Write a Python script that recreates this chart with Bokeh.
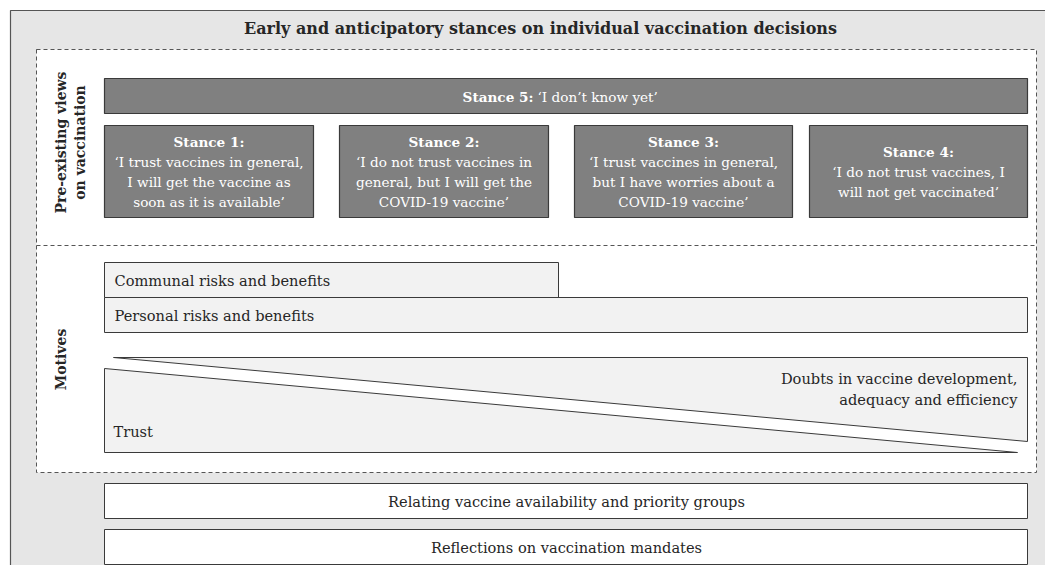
import math
from bokeh.plotting import figure
from bokeh.models import Range1d
from bokeh.core.properties import value
from bokeh.embed import file_html
from bokeh.resources import INLINE

# ---- content ----
title_text = "Early and anticipatory stances on individual vaccination decisions"
section_labels = ["Pre-existing views", "on vaccination", "Motives"]
stance5_head = "Stance 5:"
stance5_body = "\u2018I don\u2019t know yet\u2019"
stance_heads = ["Stance 1:", "Stance 2:", "Stance 3:", "Stance 4:"]
stance_lines = [
    ["\u2018I trust vaccines in general,", "I will get the vaccine as", "soon as it is available\u2019"],
    ["\u2018I do not trust vaccines in", "general, but I will get the", "COVID-19 vaccine\u2019"],
    ["\u2018I trust vaccines in general,", "but I have worries about a", "COVID-19 vaccine\u2019"],
    ["\u2018I do not trust vaccines, I", "will not get vaccinated\u2019"],
]
motive_bars = ["Communal risks and benefits", "Personal risks and benefits"]
doubts_lines = ["Doubts in vaccine development,", "adequacy and efficiency"]
trust_label = "Trust"
bottom_bars = ["Relating vaccine availability and priority groups", "Reflections on vaccination mandates"]

# ---- layout (pixel-like coordinates) ----
stance_left = [104, 339, 574, 809]
stance_right = [313, 548, 792, 1027]
motive_right = [558, 1027]
motive_top = [262, 297]
bottom_top = [483, 529]

SERIF = "DejaVu Serif"
FS = "14.6px"
SFS = "13.6px"
DARK = "#262626"
EDGE = "#3a3a3a"

p = figure(width=1045, height=565, output_backend="svg", toolbar_location=None,
           x_range=Range1d(0, 1045), y_range=Range1d(565, 0), min_border=0)
p.axis.visible = False
p.grid.visible = False
p.outline_line_color = None
p.background_fill_color = "white"
p.border_fill_color = "white"

# outer frame
p.quad(left=[10], right=[1080], top=[10], bottom=[600], fill_color="#e6e6e6",
       line_color="#555555", line_width=1.2)
# dashed inner frame
p.quad(left=[36], right=[1036], top=[49], bottom=[472], fill_color="white",
       line_color="#555555", line_width=1, line_dash="4 3")
p.line(x=[36, 1036], y=[245, 245], line_color="#555555", line_width=1, line_dash="4 3")

# title
p.text(x=[540], y=[28], text=[title_text], text_font=value(SERIF),
       text_font_size="16px", text_font_style="bold", text_color=DARK,
       text_align="center", text_baseline="middle")

# vertical section labels
p.text(x=[60, 79], y=[142, 142], text=section_labels[:2], text_font=value(SERIF),
       text_font_size="14px", text_font_style="bold", text_color=DARK, angle=math.pi / 2,
       text_align="center", text_baseline="middle")
p.text(x=[60], y=[359], text=section_labels[2:], text_font=value(SERIF),
       text_font_size="14px", text_font_style="bold", text_color=DARK, angle=math.pi / 2,
       text_align="center", text_baseline="middle")

# stance 5 bar
p.quad(left=[104], right=[1027], top=[78], bottom=[113], fill_color="#808080",
       line_color=EDGE, line_width=1.2)
p.text(x=[533], y=[96], text=[stance5_head], text_font=value(SERIF), text_font_size=SFS,
       text_font_style="bold", text_color="white", text_align="right", text_baseline="middle")
p.text(x=[537], y=[96], text=[stance5_body], text_font=value(SERIF), text_font_size=SFS,
       text_color="white", text_align="left", text_baseline="middle")

# stance boxes
p.quad(left=stance_left, right=stance_right, top=[125] * 4, bottom=[217] * 4,
       fill_color="#808080", line_color=EDGE, line_width=1.2)
hx, hy, bx, by, bt = [], [], [], [], []
for i in range(4):
    cx = (stance_left[i] + stance_right[i]) / 2
    n = 1 + len(stance_lines[i])
    y0 = 171.5 - (n - 1) * 20 / 2
    hx.append(cx)
    hy.append(y0)
    for j, t in enumerate(stance_lines[i]):
        bx.append(cx)
        by.append(y0 + (j + 1) * 20)
        bt.append(t)
p.text(x=hx, y=hy, text=stance_heads, text_font=value(SERIF), text_font_size=SFS,
       text_font_style="bold", text_color="white", text_align="center", text_baseline="middle")
p.text(x=bx, y=by, text=bt, text_font=value(SERIF), text_font_size=SFS,
       text_color="white", text_align="center", text_baseline="middle")

# motive bars
p.quad(left=[104, 104], right=motive_right, top=motive_top, bottom=[t + 35 for t in motive_top],
       fill_color="#f2f2f2", line_color=EDGE, line_width=1)
p.text(x=[114, 114], y=[t + 18 for t in motive_top], text=motive_bars, text_font=value(SERIF),
       text_font_size=FS, text_color=DARK, text_align="left", text_baseline="middle")

# trust / doubts wedges
p.patch(x=[113, 1027, 1027], y=[357, 357, 441], fill_color="#f2f2f2", line_color=EDGE, line_width=1)
p.patch(x=[104, 1017, 104], y=[368, 452, 452], fill_color="#f2f2f2", line_color=EDGE, line_width=1)
p.text(x=[1017, 1017], y=[378, 399], text=doubts_lines, text_font=value(SERIF), text_font_size=FS,
       text_color=DARK, text_align="right", text_baseline="middle")
p.text(x=[113], y=[431], text=[trust_label], text_font=value(SERIF), text_font_size=FS,
       text_color=DARK, text_align="left", text_baseline="middle")

# bottom bars
p.quad(left=[104, 104], right=[1027, 1027], top=bottom_top, bottom=[t + 35 for t in bottom_top],
       fill_color="white", line_color=EDGE, line_width=1)
p.text(x=[566, 566], y=[t + 18 for t in bottom_top], text=bottom_bars, text_font=value(SERIF),
       text_font_size=FS, text_color=DARK, text_align="center", text_baseline="middle")

open("out.html", "w").write(file_html(p, INLINE))
